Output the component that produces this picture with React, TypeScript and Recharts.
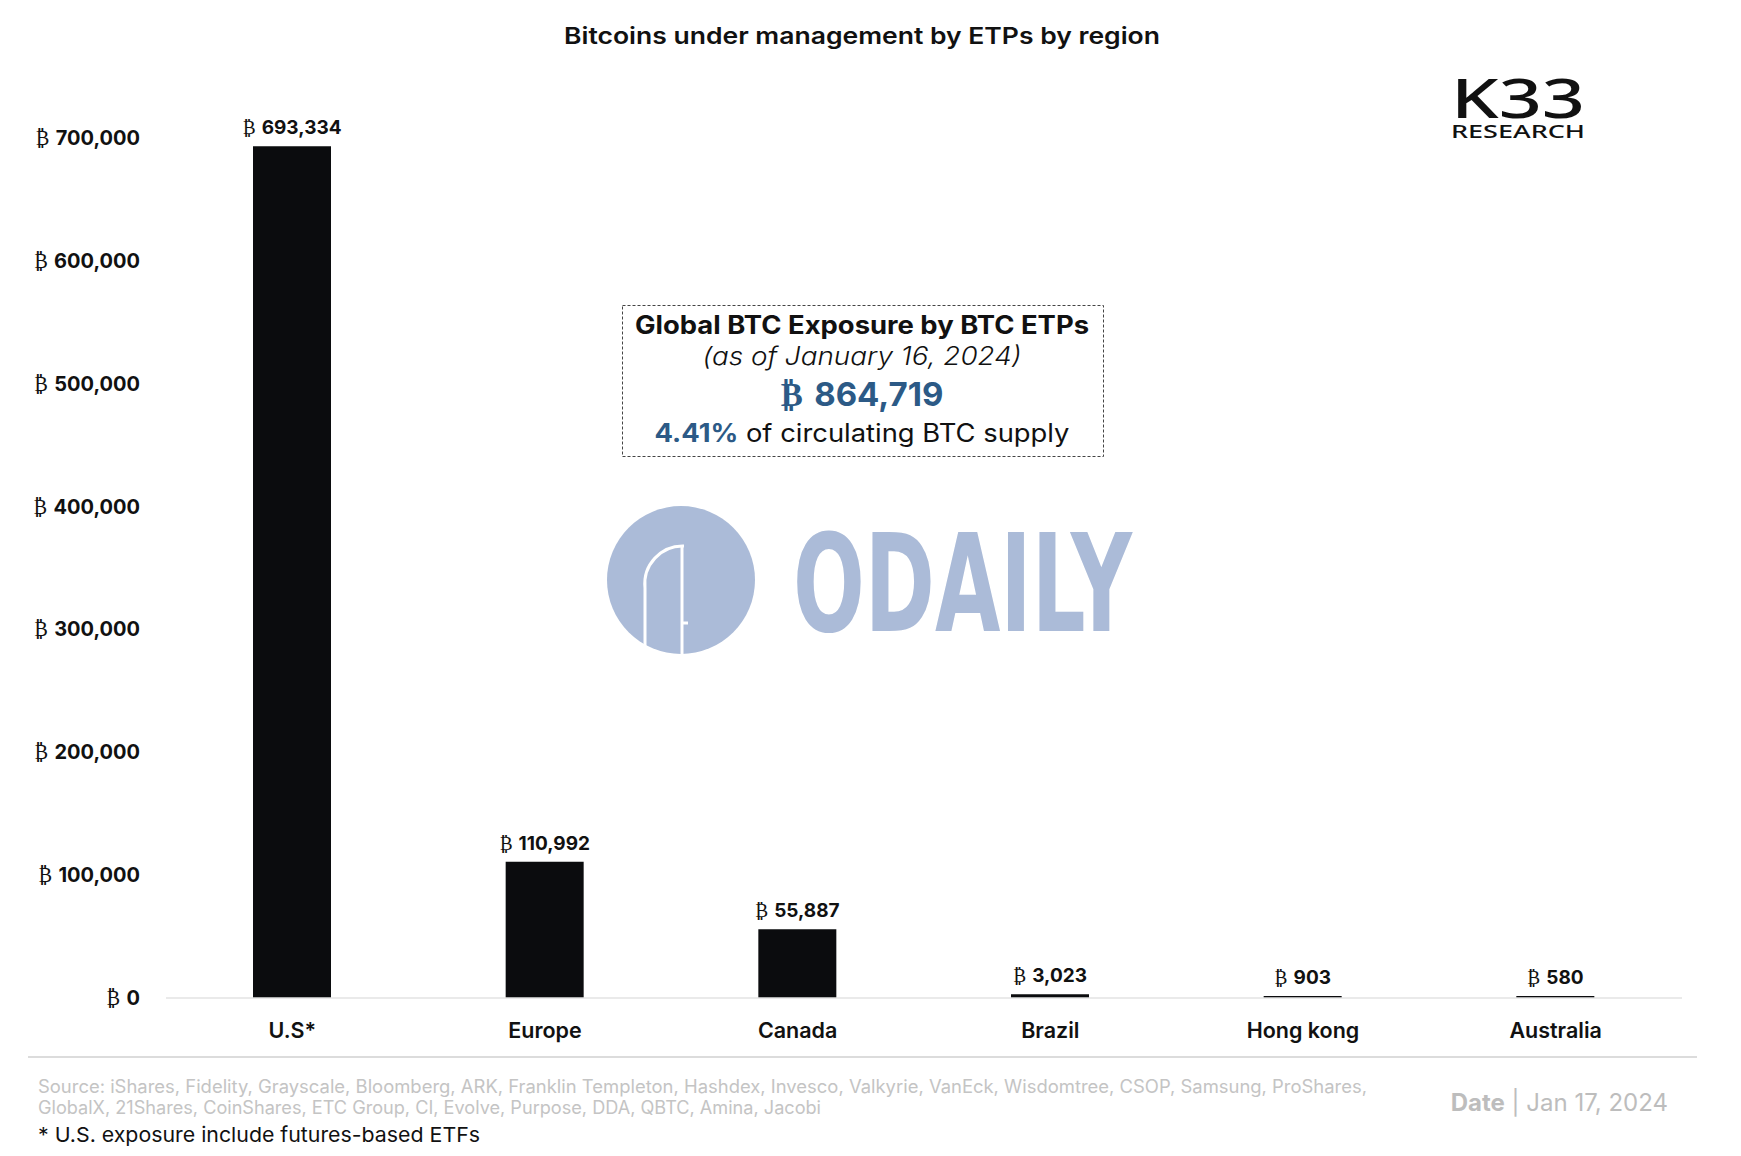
import React from 'react';
import { BarChart, Bar, XAxis, YAxis, LabelList } from 'recharts';

const regions = ['U.S*', 'Europe', 'Canada', 'Brazil', 'Hong kong', 'Australia'];
const btcHeld = [693334, 110992, 55887, 3023, 903, 580];
const yTicks = [0, 100000, 200000, 300000, 400000, 500000, 600000, 700000];

const sources = [
  'Source:  iShares, Fidelity, Grayscale, Bloomberg, ARK, Franklin Templeton, Hashdex, Invesco, Valkyrie, VanEck, Wisdomtree, CSOP, Samsung, ProShares,',
  'GlobalX, 21Shares, CoinShares, ETC Group, CI, Evolve, Purpose, DDA, QBTC, Amina, Jacobi',
];
const sourceWidths = [1329, 783];

const chartData = regions.map((region, i) => ({ region, btc: btcHeld[i] }));

const W = 1741;
const H = 1156;
const FONT = 'Inter, "Noto Sans", sans-serif';
const BTC_FONT = '"DejaVu Serif", serif';

const fmt = (v: number) => v.toLocaleString('en-US');

const YTick = (props: any) => {
  const { x, y, payload } = props;
  return (
    <text x={x} y={y} dy={7} textAnchor="end" fontFamily={FONT} fontSize={20} fill="#111">
      <tspan fontFamily={BTC_FONT} fontWeight={400}>{'₿\u00A0'}</tspan>
      <tspan fontWeight={700}>{fmt(payload.value)}</tspan>
    </text>
  );
};

const XTick = (props: any) => {
  const { x, y, payload } = props;
  return (
    <text x={x} y={y} dy={40} textAnchor="middle" fontFamily={FONT} fontSize={21.5} fontWeight={600} fill="#111">
      {payload.value}
    </text>
  );
};

const BarLabel = (props: any) => {
  const { x, y, width, value } = props;
  return (
    <text x={x + width / 2} y={y - 12} textAnchor="middle" fontFamily={FONT} fontSize={19} fill="#111">
      <tspan fontFamily={BTC_FONT} fontWeight={400}>{'₿\u00A0'}</tspan>
      <tspan fontWeight={700}>{fmt(value)}</tspan>
    </text>
  );
};

const Overlay = () => (
  <svg width={W} height={H} style={{ position: 'absolute', left: 0, top: 0, pointerEvents: 'none' }}>
    {/* title */}
    <text x={862} y={44} textAnchor="middle" fontFamily={FONT} fontSize={23} fontWeight={600} fill="#111"
      textLength={596} lengthAdjust="spacingAndGlyphs">
      Bitcoins under management by ETPs by region
    </text>

    {/* K33 logo */}
    <text x={1451} y={118} fontFamily='"Noto Sans", sans-serif' fontSize={54} fontWeight={500} fill="#111"
      textLength={134} lengthAdjust="spacingAndGlyphs">K33</text>
    <text x={1451} y={138} fontFamily='"Noto Sans", sans-serif' fontSize={18} fontWeight={500} fill="#111"
      textLength={134} lengthAdjust="spacingAndGlyphs">RESEARCH</text>

    {/* callout */}
    <rect x={622.5} y={305.5} width={481} height={151} fill="none" stroke="#444" strokeWidth={1} strokeDasharray="3 2" />
    <text x={862} y={334} textAnchor="middle" fontFamily={FONT} fontSize={25} fontWeight={700} fill="#111"
      textLength={454} lengthAdjust="spacingAndGlyphs">
      Global BTC Exposure by BTC ETPs
    </text>
    <text x={862} y={365} textAnchor="middle" fontFamily={FONT} fontSize={25} fontStyle="italic" fontWeight={300} fill="#111"
      textLength={319} lengthAdjust="spacingAndGlyphs">
      (as of January 16, 2024)
    </text>
    <text x={862} y={406} textAnchor="middle" fontFamily={FONT} fontSize={33} fontWeight={700} fill="#2c5a86">
      <tspan fontFamily={BTC_FONT}>{'₿\u00A0'}</tspan>
      <tspan>864,719</tspan>
    </text>
    <text x={862} y={442} textAnchor="middle" fontFamily={FONT} fontSize={25} fill="#111"
      textLength={415} lengthAdjust="spacingAndGlyphs">
      <tspan fontWeight={700} fill="#2c5a86">4.41%</tspan>
      <tspan fontWeight={400}>{' of circulating BTC supply'}</tspan>
    </text>

    {/* watermark */}
    <g opacity={0.95}>
      <circle cx={681} cy={580} r={74} fill="#a7b8d6" />
      <path d="M 645 650 V 588 A 38 38 0 0 1 684 546" fill="none" stroke="#fff" strokeWidth={3} />
      <path d="M 682 546 V 660" fill="none" stroke="#fff" strokeWidth={3} />
      <path d="M 682 623 H 688" fill="none" stroke="#fff" strokeWidth={3} />
      <text x={793} y={631} fontFamily='"DejaVu Sans Condensed", "DejaVu Sans", sans-serif' fontSize={136} fontWeight={700}
        fill="#a7b8d6" textLength={339} lengthAdjust="spacingAndGlyphs">ODAILY</text>
    </g>

    {/* footer */}
    <line x1={28} x2={1697} y1={1057} y2={1057} stroke="#dcdcdc" strokeWidth={2} />
    {sources.map((s, i) => (
      <text key={i} x={38} y={1093 + i * 21} fontFamily={FONT} fontSize={18} fill="#c4c4c4"
        textLength={sourceWidths[i]} lengthAdjust="spacingAndGlyphs">{s}</text>
    ))}
    <text x={38} y={1142} fontFamily={FONT} fontSize={20.5} fill="#111"
      textLength={442} lengthAdjust="spacingAndGlyphs">* U.S. exposure include futures-based ETFs</text>
    <text x={1668} y={1111} textAnchor="end" fontFamily={FONT} fontSize={24} fill="#bdbdbd">
      <tspan fontWeight={700}>Date</tspan>
      <tspan fontWeight={400}>{' | Jan 17, 2024'}</tspan>
    </text>
  </svg>
);

export default function App() {
  return (
    <div style={{ position: 'relative', width: W, height: H, margin: -8, background: '#fff' }}>
      <BarChart width={W} height={H} data={chartData} margin={{ top: 138, right: 59, bottom: 98, left: 0 }}>
        <XAxis
          dataKey="region"
          height={60}
          tickLine={false}
          tickSize={0}
          tickMargin={0}
          axisLine={{ stroke: '#e3e3e3', strokeWidth: 1.5 }}
          tick={<XTick />}
          interval={0}
        />
        <YAxis
          width={166}
          domain={[0, 700000]}
          ticks={yTicks}
          axisLine={false}
          tickLine={false}
          tickSize={0}
          tickMargin={26}
          tick={<YTick />}
          interval={0}
        />
        <Bar dataKey="btc" fill="#0b0c0e" barSize={78} minPointSize={2} isAnimationActive={false}>
          <LabelList dataKey="btc" content={<BarLabel />} />
        </Bar>
      </BarChart>
      <Overlay />
    </div>
  );
}
